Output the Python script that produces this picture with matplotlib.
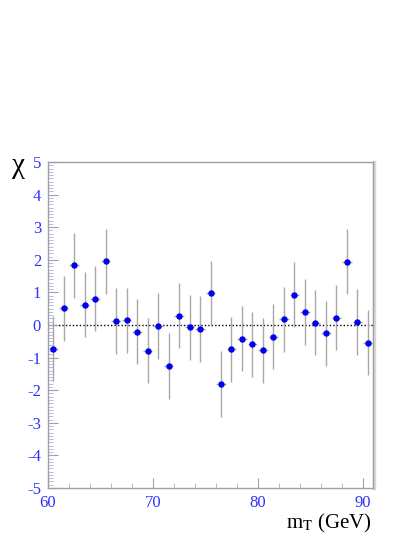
import matplotlib
matplotlib.use("Agg")
import matplotlib.pyplot as plt
import numpy as np
from matplotlib.ticker import MultipleLocator

x_centers = [60.5, 61.5, 62.5, 63.5, 64.5, 65.5, 66.5, 67.5, 68.5, 69.5,
             70.5, 71.5, 72.5, 73.5, 74.5, 75.5, 76.5, 77.5, 78.5, 79.5,
             80.5, 81.5, 82.5, 83.5, 84.5, 85.5, 86.5, 87.5, 88.5, 89.5, 90.5]
chi_values = [-0.73, 0.51, 1.83, 0.62, 0.81, 1.96, 0.12, 0.14, -0.21, -0.79,
              -0.03, -1.26, 0.29, -0.07, -0.12, 0.97, -1.81, -0.75, -0.42, -0.59,
              -0.78, -0.36, 0.18, 0.93, 0.40, 0.07, -0.25, 0.23, 1.94, 0.09, -0.54]
y_err = [1.0] * len(x_centers)
x_err = [0.45] * len(x_centers)
x_ticks = [60, 70, 80, 90]
y_ticks = [-5, -4, -3, -2, -1, 0, 1, 2, 3, 4, 5]

plt.rcParams["mathtext.fontset"] = "stix"

W, H = 415, 537
fig = plt.figure(figsize=(W / 100, H / 100), dpi=100)
ax = fig.add_axes([48 / W, 1 - 488 / H, (373 - 48) / W, (488 - 162) / H])

serif = ["Liberation Serif", "DejaVu Serif"]
axis_grey = "#a0a0a0"
tick_blue = "#3030ff"

ax.axhline(0, color="black", linestyle=(0, (1, 1.5)), linewidth=1.0, zorder=1)
ax.errorbar(x_centers, chi_values, yerr=y_err, xerr=x_err, fmt="o",
            color="#0000ee", markersize=3.6, ecolor="#a8a8a8",
            elinewidth=1.0, capsize=0, zorder=3)

ax.set_xlim(60, 91)
ax.set_ylim(-5, 5)
ax.set_xticks(x_ticks)
ax.set_yticks(y_ticks)
ax.xaxis.set_minor_locator(MultipleLocator(2))
ax.yaxis.set_minor_locator(MultipleLocator(0.1))

for s in ax.spines.values():
    s.set_color(axis_grey)
    s.set_linewidth(1.0)
# right shadow
ax.plot([1.004, 1.004], [0, 1], transform=ax.transAxes, color="#d8d8d8",
        linewidth=2.5, clip_on=False, zorder=0)

ax.tick_params(axis="both", which="major", direction="in", length=7,
               color=axis_grey, labelcolor=tick_blue, labelsize=12,
               top=False, right=False, pad=5)
ax.tick_params(axis="both", which="minor", direction="in", length=3.5,
               color="#b0b0e8", top=False, right=False)

ax.set_yticklabels([str(v) for v in y_ticks])
for lab in ax.get_xticklabels() + ax.get_yticklabels():
    lab.set_family(serif)

fig.text(18 / W, 1 - 166 / H, "χ", fontsize=21, family=serif,
         ha="center", va="center", color="black")
fig.text(372 / W, 1 - 523 / H, r"m$_{\mathrm{T}}$ (GeV)", fontsize=15,
         family=serif, ha="right", va="center", color="black")

fig.savefig("out.png", dpi=100)
